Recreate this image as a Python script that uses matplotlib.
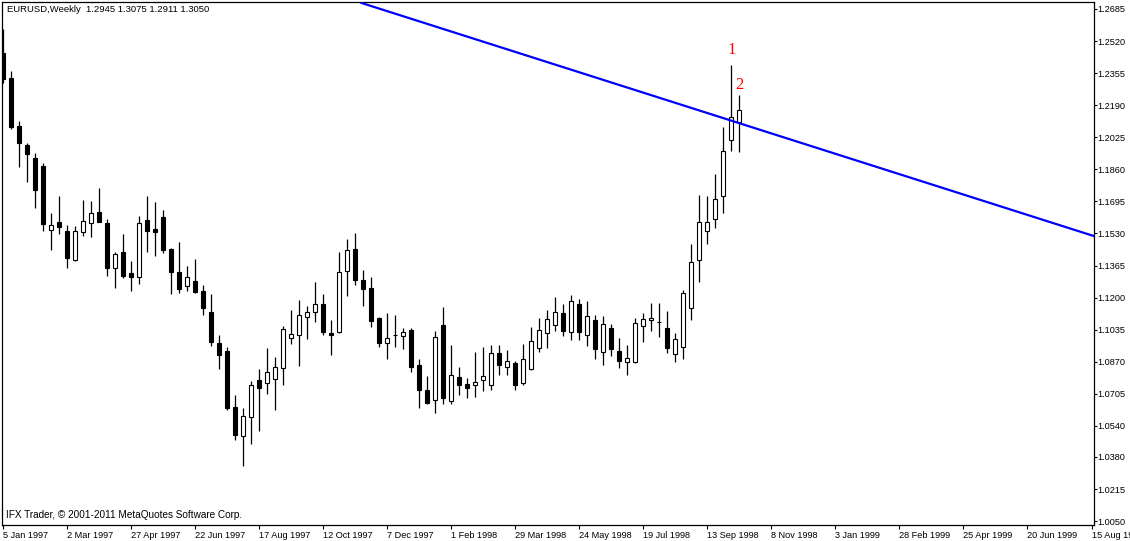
import matplotlib
matplotlib.use("Agg")
import matplotlib.pyplot as plt

# EURUSD weekly candles, first bar = week of 5 Jan 1997
opens = [1.2459, 1.2328, 1.2083, 1.1985, 1.1918, 1.1877, 1.1549, 1.1589, 1.1543, 1.1392,
         1.1536, 1.1582, 1.1640, 1.1584, 1.1354, 1.1435, 1.1325, 1.1307, 1.1599, 1.1553,
         1.1615, 1.1450, 1.1332, 1.1258, 1.1285, 1.1234, 1.1126, 1.0966, 1.0925, 1.0637,
         1.0489, 1.0587, 1.0776, 1.0759, 1.0783, 1.0839, 1.0990, 1.1009, 1.1102, 1.1124,
         1.1167, 1.1016, 1.1021, 1.1335, 1.1448, 1.1289, 1.1248, 1.1095, 1.0965, 1.1007,
         1.1001, 1.1033, 1.0853, 1.0726, 1.0671, 1.1059, 1.0666, 1.0791, 1.0755, 1.0752,
         1.0774, 1.0749, 1.0913, 1.0841, 1.0862, 1.0762, 1.0832, 1.0942, 1.1016, 1.1057,
         1.1119, 1.1024, 1.1167, 1.1006, 1.1083, 1.0918, 1.1043, 1.0925, 1.0867, 1.0870,
         1.1052, 1.1083, 1.1072, 1.1043, 1.0912, 1.0948, 1.1145, 1.1391, 1.1545, 1.1603,
         1.1723, 1.2011, 1.2106]
highs = [1.2582, 1.2366, 1.2109, 1.1994, 1.1942, 1.1891, 1.1637, 1.1723, 1.1572, 1.1568,
         1.1702, 1.1697, 1.1764, 1.1604, 1.1436, 1.1527, 1.1388, 1.1620, 1.1723, 1.1693,
         1.1651, 1.1455, 1.1486, 1.1362, 1.1398, 1.1265, 1.1218, 1.1007, 1.0946, 1.0699,
         1.0632, 1.0771, 1.0832, 1.0941, 1.0894, 1.1054, 1.1136, 1.1188, 1.1157, 1.1280,
         1.1218, 1.1085, 1.1435, 1.1501, 1.1532, 1.1342, 1.1306, 1.1100, 1.1121, 1.1110,
         1.1042, 1.1042, 1.0884, 1.0795, 1.1028, 1.1151, 1.0956, 1.0841, 1.0786, 1.0921,
         1.0946, 1.0956, 1.0954, 1.0930, 1.0875, 1.0961, 1.1049, 1.1095, 1.1136, 1.1203,
         1.1167, 1.1213, 1.1193, 1.1182, 1.1109, 1.1105, 1.1064, 1.0992, 1.0954, 1.1095,
         1.1121, 1.1171, 1.1171, 1.1131, 1.1016, 1.1239, 1.1476, 1.1728, 1.1723, 1.1836,
         1.2076, 1.2397, 1.2241]
lows = [1.2304, 1.2066, 1.1873, 1.1796, 1.1662, 1.1544, 1.1446, 1.1529, 1.1354, 1.1390,
        1.1517, 1.1513, 1.1587, 1.1311, 1.1251, 1.1302, 1.1235, 1.1268, 1.1436, 1.1415,
        1.1431, 1.1220, 1.1225, 1.1235, 1.1226, 1.1110, 1.0952, 1.0834, 1.0623, 1.0467,
        1.0333, 1.0448, 1.0513, 1.0706, 1.0623, 1.0752, 1.0963, 1.0849, 1.0988, 1.1076,
        1.1009, 1.0906, 1.1019, 1.1210, 1.1266, 1.1158, 1.1050, 1.0947, 1.0885, 1.0947,
        1.0937, 1.0819, 1.0633, 1.0652, 1.0604, 1.0652, 1.0652, 1.0699, 1.0685, 1.0690,
        1.0721, 1.0724, 1.0802, 1.0802, 1.0724, 1.0749, 1.0827, 1.0921, 1.0942, 1.1030,
        1.1004, 1.0983, 1.0983, 1.0951, 1.0885, 1.0855, 1.0901, 1.0840, 1.0802, 1.0865,
        1.0971, 1.1030, 1.0995, 1.0916, 1.0870, 1.0886, 1.1087, 1.1278, 1.1478, 1.1560,
        1.1637, 1.1956, 1.1951]
closes = [1.2325, 1.2079, 1.1997, 1.1940, 1.1755, 1.1580, 1.1573, 1.1565, 1.1404, 1.1543,
          1.1594, 1.1635, 1.1590, 1.1354, 1.1423, 1.1313, 1.1304, 1.1582, 1.1543, 1.1539,
          1.1446, 1.1332, 1.1246, 1.1306, 1.1229, 1.1148, 1.0973, 1.0906, 1.0633, 1.0494,
          1.0591, 1.0749, 1.0736, 1.0815, 1.0843, 1.1038, 1.1011, 1.1109, 1.1124, 1.1165,
          1.1024, 1.1009, 1.1330, 1.1443, 1.1292, 1.1246, 1.1081, 1.0968, 1.0990, 1.1008,
          1.1021, 1.0844, 1.0726, 1.0659, 1.0996, 1.0682, 1.0800, 1.0752, 1.0736, 1.0764,
          1.0796, 1.0913, 1.0851, 1.0874, 1.0749, 1.0882, 1.0975, 1.1032, 1.1088, 1.1124,
          1.1030, 1.1181, 1.1024, 1.1104, 1.0937, 1.1064, 1.0937, 1.0876, 1.0887, 1.1068,
          1.1088, 1.1095, 1.1072, 1.0942, 1.0985, 1.1222, 1.1382, 1.1587, 1.1587, 1.1706,
          1.1953, 1.2128, 1.2164]

date_labels = ['5 Jan 1997', '2 Mar 1997', '27 Apr 1997', '22 Jun 1997', '17 Aug 1997',
               '12 Oct 1997', '7 Dec 1997', '1 Feb 1998', '29 Mar 1998', '24 May 1998',
               '19 Jul 1998', '13 Sep 1998', '8 Nov 1998', '3 Jan 1999', '28 Feb 1999',
               '25 Apr 1999', '20 Jun 1999', '15 Aug 1999']
price_ticks = [1.0050, 1.0215, 1.0380, 1.0540, 1.0705, 1.0870, 1.1035, 1.1200, 1.1365,
               1.1530, 1.1695, 1.1860, 1.2025, 1.2190, 1.2355, 1.2520, 1.2685]

# trend line (bar index, price)
trend_x = [44.8, 136.2]
trend_y = [1.2716, 1.1518]

fig = plt.figure(figsize=(11.3, 5.41), dpi=100)
ax = fig.add_axes([0.0022, 0.0296, 0.9655, 0.9667])

idx = list(range(len(opens)))
# wicks first so white bodies cover them
ax.vlines(idx, lows, highs, color='black', linewidth=0.9, zorder=2)
for i in idx:
    o, c = opens[i], closes[i]
    fill = 'black' if c < o else 'white'
    ax.bar(i, abs(c - o), bottom=min(o, c), width=0.5, color=fill,
           edgecolor='black', linewidth=0.8, zorder=3)

ax.plot(trend_x, trend_y, color='#0000FF', linewidth=1.6, zorder=4)

ax.text(91.06, 1.2474, '1', color='red', fontsize=12, family='Liberation Serif',
        ha='center', va='center')
ax.text(92.06, 1.2294, '2', color='red', fontsize=12, family='Liberation Serif',
        ha='center', va='center')

ax.set_xlim(-0.06, 136.25)
ax.set_ylim(1.0030, 1.2721)

ax.set_xticks(range(0, 8 * len(date_labels), 8))
ax.set_xticklabels(date_labels, fontsize=6.6, family='Liberation Sans')
plt.setp(ax.get_xticklabels(), ha='left')
ax.tick_params(axis='x', direction='out', length=3, width=0.8, pad=1.5)

ax.yaxis.tick_right()
ax.set_yticks(price_ticks)
ax.set_yticklabels(['%.4f' % p for p in price_ticks], fontsize=6.6, family='Liberation Sans')
ax.tick_params(axis='y', direction='out', length=2.5, width=0.8, pad=0.5)

for s in ax.spines.values():
    s.set_linewidth(0.9)
    s.set_color('black')

ax.text(0.0041, 0.985, 'EURUSD,Weekly  1.2945 1.3075 1.2911 1.3050', transform=ax.transAxes,
        fontsize=6.8, family='Liberation Sans', ha='left', va='center')
ax.text(0.003, 0.019, 'IFX Trader, \u00a9 2001-2011 MetaQuotes Software Corp.', transform=ax.transAxes,
        fontsize=7.2, family='Liberation Sans', ha='left', va='center')

fig.savefig('out.png', dpi=100)
